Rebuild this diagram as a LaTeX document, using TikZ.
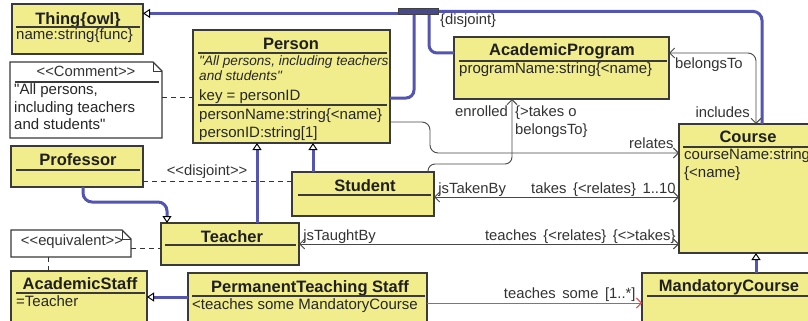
\documentclass[tikz,border=0pt]{standalone}
\usepackage{fontspec}
\newfontfamily\umlfont{Liberation Sans}
\usetikzlibrary{arrows.meta}
\usetikzlibrary{calc}

\definecolor{classyellow}{RGB}{241,237,140}
\definecolor{isablue}{RGB}{84,84,178}
\definecolor{bardark}{RGB}{72,72,140}
\definecolor{boxline}{RGB}{58,58,58}
\definecolor{linegray}{RGB}{72,72,72}
\definecolor{assocred}{RGB}{235,72,72}

\begin{document}
\begin{tikzpicture}[x=1pt,y=-1pt,
        classbox/.style={draw=boxline,line width=1.1pt,fill=classyellow,anchor=north west,inner sep=0pt,outer sep=0pt},
        notebox/.style={anchor=north west,inner sep=0pt,outer sep=0pt},
        notedraw/.style={draw=boxline,line width=1.1pt,fill=white},
        ctitle/.style={font=\umlfont\fontsize{16.5}{18}\selectfont\bfseries,anchor=base,inner sep=0pt,text=black!88},
        attr/.style={font=\umlfont\fontsize{15}{17}\selectfont,anchor=base west,inner sep=0pt,text=black!85},
        iattr/.style={font=\umlfont\fontsize{13.6}{16}\selectfont\itshape,anchor=base west,inner sep=0pt,text=black!85},
        lbl/.style={font=\umlfont\fontsize{14.8}{17}\selectfont,inner sep=0pt,text=black!80},
        divider/.style={draw=boxline,line width=1.1pt},
        isa/.style={draw=isablue,line width=3pt,-{Triangle[length=7pt,width=9pt,line width'=1pt,color=black,fill=white]}},
        isaline/.style={draw=isablue,line width=3pt},
        assoc/.style={draw=linegray,line width=0.9pt},
        redassoc/.style={draw=assocred,line width=0.9pt},
        tipv/.tip={Straight Barb[length=5pt,width=10pt]},
        dashline/.style={draw=black!80,line width=0.9pt,dash pattern=on 5pt off 4pt}
    ]
                    \useasboundingbox (0,0) rectangle (808,321);
                    \fill[white] (0,0) rectangle (808,321);
                    \clip (0,0) rectangle (808,321);

                    \node[classbox,minimum width=131pt,minimum height=50pt] (thing) at (12,4) {};
                    \node[ctitle] (thing-t) at (78,25) {Thing\{owl\}};
                    \draw[divider] (16,27) -- (140,27);
                    \node[attr] (thing-a) at (16,40) {name:string\{func\}};

                    \node[notebox,minimum width=152pt,minimum height=76pt] (comment) at (10,62) {};
                    \draw[notedraw] (comment.north west) -- ($(comment.north east)+(-9,0)$) -- ($(comment.north east)+(0,9)$)
                        -- (comment.south east) -- (comment.south west) -- cycle;
                    \draw[boxline,line width=0.8pt] ($(comment.north east)+(-9,0)$) |- ($(comment.north east)+(0,9)$);
                    \node[lbl,anchor=base] (comment-t) at (86,76) {<<Comment>>};
                    \draw[divider] (15,82) -- (159,82);
                    \node[attr] (comment-a) at (14,94) {"All persons,};
                    \node[attr] (comment-b) at (14,112) {including teachers};
                    \node[attr] (comment-c) at (14,129) {and students"};

                    \node[classbox,minimum width=197pt,minimum height=113pt] (person) at (193,30) {};
                    \node[ctitle] (person-t) at (291,49) {Person};
                    \draw[divider] (198,53) -- (387,53);
                    \node[iattr] (person-i) at (199,66) {"All persons, including teachers};
                    \node[iattr] (person-j) at (199,81) {and students"};
                    \node[attr] (person-k) at (199,100) {key = personID};
                    \draw[divider] (198,105) -- (387,105);
                    \node[attr] (person-a) at (199,119) {personName:string\{<name\}};
                    \node[attr] (person-b) at (199,137) {personID:string[1]};

                    \node[classbox,minimum width=215pt,minimum height=62pt] (acadprog) at (454,37) {};
                    \node[ctitle] (acadprog-t) at (562,56) {AcademicProgram};
                    \draw[divider] (459,61) -- (667,61);
                    \node[attr] (acadprog-a) at (459,74) {programName:string\{<name\}};

                    \node[classbox,minimum width=132pt,minimum height=41pt] (professor) at (11,146) {};
                    \node[ctitle] (professor-t) at (78,165) {Professor};
                    \draw[divider] (16,170) -- (140,170);

                    \node[classbox,minimum width=142pt,minimum height=44pt] (student) at (292,172) {};
                    \node[ctitle] (student-t) at (365,191) {Student};
                    \draw[divider] (298,195) -- (431,195);

                    \node[classbox,minimum width=138pt,minimum height=42pt] (teacher) at (161,223) {};
                    \node[ctitle] (teacher-t) at (232,242) {Teacher};
                    \draw[divider] (165,245) -- (296,245);

                    \node[notebox,minimum width=120pt,minimum height=27pt] (equiv) at (11,230) {};
                    \draw[notedraw] (equiv.north west) -- ($(equiv.north east)+(-9,0)$) -- ($(equiv.north east)+(0,9)$)
                        -- (equiv.south east) -- (equiv.south west) -- cycle;
                    \draw[boxline,line width=0.8pt] ($(equiv.north east)+(-9,0)$) |- ($(equiv.north east)+(0,9)$);
                    \node[lbl,anchor=base] (equiv-t) at (72,245) {<<equivalent>>};

                    \node[classbox,minimum width=136pt,minimum height=70pt] (staff) at (11,271) {};
                    \node[ctitle] (staff-t) at (80,289) {AcademicStaff};
                    \draw[divider] (16,293) -- (145,293);
                    \node[attr] (staff-a) at (16,306) {=Teacher};

                    \node[classbox,minimum width=239pt,minimum height=70pt] (pts) at (188,273) {};
                    \node[ctitle] (pts-t) at (310,292) {PermanentTeaching Staff};
                    \draw[divider] (192,296) -- (425,296);
                    \node[attr] (pts-a) at (192,309) {<teaches some MandatoryCourse};

                    \node[classbox,minimum width=166pt,minimum height=129pt] (course) at (679,124) {};
                    \node[ctitle] (course-t) at (748,142) {Course};
                    \draw[divider] (683,147) -- (850,147);
                    \node[attr] (course-a) at (684,159) {courseName:string};
                    \node[attr] (course-b) at (684,177) {\{<name\}};

                    \node[classbox,minimum width=228pt,minimum height=70pt] (mandatory) at (642,273) {};
                    \node[ctitle] (mandatory-t) at (729,291) {MandatoryCourse};
                    \draw[divider] (647,296) -- (870,296);

                    \node[draw=black!75,fill=bardark,line width=0.8pt,anchor=north west,inner sep=0pt,
                        minimum width=40pt,minimum height=6pt] (bar) at (398,8) {};
                    \node[lbl,anchor=base west] (bar-l) at (440,25) {\{disjoint\}};

                    \draw[isa] ([yshift=-2pt]bar.west) -- ([yshift=-2pt]bar.west -| thing.east);
                    \draw[isaline,rounded corners=9pt] (bar.east) -| (course.north);
                    \draw[isaline,rounded corners=8pt] (bar.south -| 414,0) |- (person.east |- 0,98);
                    \draw[isaline,rounded corners=8pt] (bar.south -| 429,0) |- (acadprog.west |- 0,53);
                    \draw[isa] (teacher.north -| 257,0) -- (person.south -| 257,0);
                    \draw[isa] (student.north -| 313,0) -- (person.south -| 313,0);
                    \draw[isa,rounded corners=9pt] (professor.south -| 83,0) |- (167,202) -- (teacher.north -| 167,0);
                    \draw[isa] (pts.west |- 0,297) -- (staff.east |- 0,297);
                    \draw[isa] (mandatory.north) -- (course.south -| mandatory.north);

                    \draw[dashline] (comment.east |- 0,97) -- (person.west |- 0,97);
                    \draw[dashline] (professor.east |- 0,181) -- node[lbl,pos=0.43,anchor=base,yshift=6pt] (disj-l) {<<disjoint>>}
                        (student.west |- 0,181);
                    \draw[dashline] (equiv.east |- 0,248) -- (teacher.west |- 0,248);
                    \draw[dashline] (equiv.south -| 48,0) -- (staff.north -| 48,0);

                    \draw[assoc,-tipv,rounded corners=8pt] (person.east |- 0,122) -| (430,153)
                        -- node[lbl,at end,anchor=base east,xshift=-5pt,yshift=5pt] (relates-l) {relates} (course.west |- 0,153);
                    \draw[assoc,-tipv,rounded corners=7pt] (student.north -| 428,0) |- (512,164) -- (acadprog.south -| 512,0);
                    \node[lbl,anchor=base east] (enrolled-l) at (508,116) {enrolled};
                    \node[lbl,anchor=base west] (takeso-l) at (515,116) {\{>takes o};
                    \node[lbl,anchor=base west] (belongs-l) at (515,134) {belongsTo\}};
                    \draw[assoc,tipv-tipv] (student.east |- 0,197)
                        -- node[lbl,at start,anchor=base west,xshift=4pt,yshift=4pt] (takenby-l) {jsTakenBy}
                        node[lbl,at end,anchor=base east,xshift=-3pt,yshift=4pt] (takes-l) {takes\ \,\{<relates\}\ \,1..10}
                        (course.west |- 0,197);
                    \draw[assoc,tipv-tipv] (teacher.east |- 0,244)
                        -- node[lbl,at start,anchor=base west,xshift=4pt,yshift=4pt] (taughtby-l) {jsTaughtBy}
                        node[lbl,at end,anchor=base east,xshift=-3pt,yshift=4pt] (teaches-l) {teaches\ \,\{<relates\}\ \,\{<>takes\}}
                        (course.west |- 0,244);
                    \draw[redassoc,-{Straight Barb[length=5pt,width=10pt,color=assocred]}] (pts.east |- 0,303)
                        -- node[lbl,at end,anchor=base east,xshift=-6pt,yshift=5pt] (some-l) {teaches\ \,some\ \,[1..*]}
                        (mandatory.west |- 0,303);
                    \draw[assoc,tipv-tipv,rounded corners=8pt] (acadprog.east |- 0,53) -| ([xshift=-6pt]course.north);
                    \node[lbl,anchor=base west] (belongsto-l) at (675,68) {belongsTo};
                    \node[lbl,anchor=base east] (includes-l) at (750,117) {includes};
                \end{tikzpicture}
\end{document}
